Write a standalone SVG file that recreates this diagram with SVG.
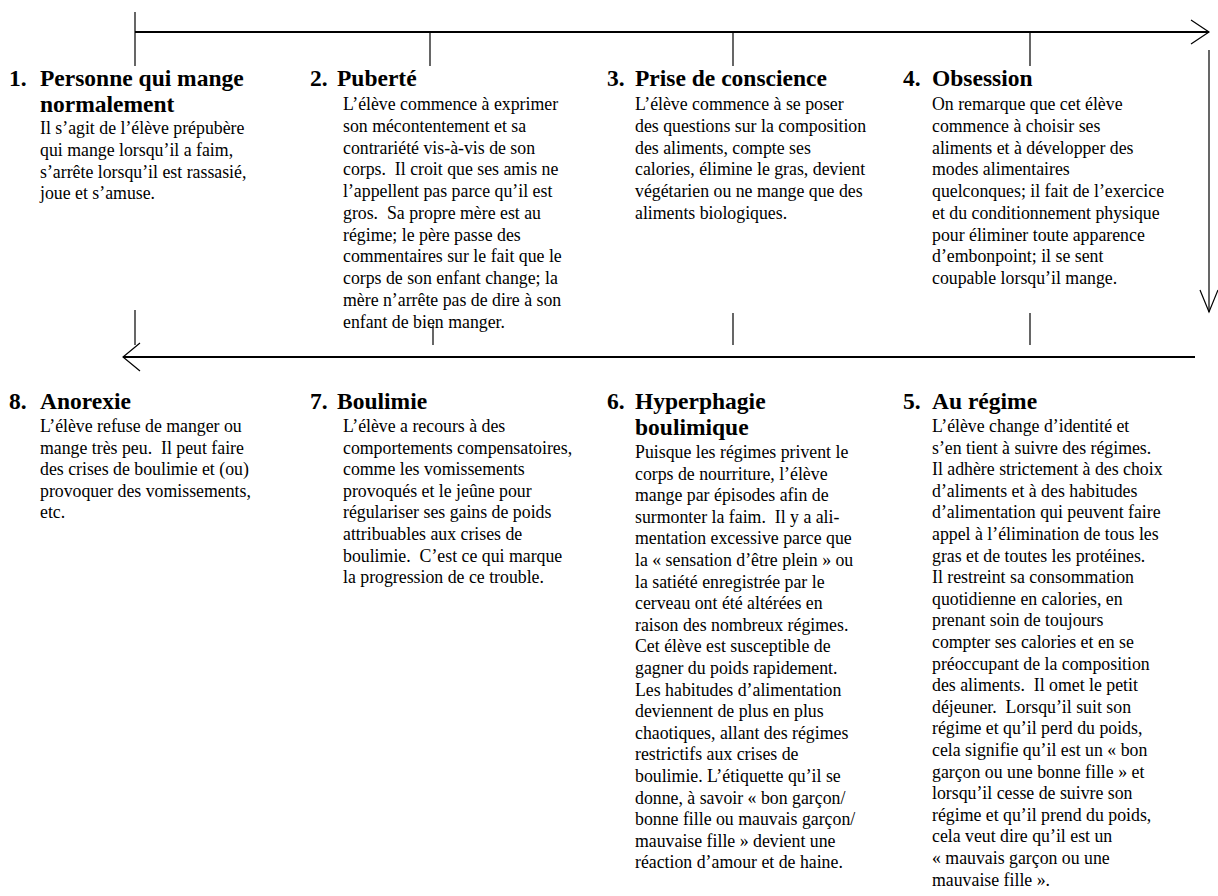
<svg xmlns="http://www.w3.org/2000/svg" width="1218" height="896" viewBox="0 0 1218 896">
<style>
.t{font-family:"Liberation Serif","Times New Roman",serif;font-weight:bold;font-size:23.5px;fill:#000}
.b{font-family:"Liberation Serif","Times New Roman",serif;font-size:17.8px;fill:#000}
.ln{stroke:#000;stroke-width:1.2;fill:none}
.main{stroke:#000;stroke-width:2;fill:none}
</style>
<rect width="1218" height="896" fill="#fff"/>
<g id="connectors">
<line class="main" x1="135" y1="32" x2="1209" y2="32"/>
<polyline class="ln" points="1191,20 1209,32 1191,44"/>
<line class="ln" x1="135" y1="12" x2="135" y2="66"/>
<line class="ln" x1="430" y1="32" x2="430" y2="66"/>
<line class="ln" x1="733" y1="32" x2="733" y2="66"/>
<line class="ln" x1="1030" y1="32" x2="1030" y2="66"/>
<line class="ln" x1="1209" y1="50" x2="1209" y2="312"/>
<polyline class="ln" points="1200,290 1209,312 1218,290"/>
<line class="main" x1="123" y1="357" x2="1195" y2="357"/>
<polyline class="ln" points="140,343 123,357 140,371"/>
<line class="ln" x1="135" y1="310" x2="135" y2="345"/>
<line class="ln" x1="433" y1="325" x2="433" y2="345"/>
<line class="ln" x1="733" y1="313" x2="733" y2="345"/>
<line class="ln" x1="1030" y1="313" x2="1030" y2="345"/>
</g>
<g id="n1">
<text class="t" x="9" y="86">1.</text>
<text class="t" x="40" y="86">Personne qui mange</text>
<text class="t" x="40" y="112">normalement</text>
<text class="b"><tspan x="40" y="134">Il s’agit de l’élève prépubère</tspan><tspan x="40" dy="21.75">qui mange lorsqu’il a faim,</tspan><tspan x="40" dy="21.75">s’arrête lorsqu’il est rassasié,</tspan><tspan x="40" dy="21.75">joue et s’amuse.</tspan></text>
</g>
<g id="n2">
<text class="t" x="310" y="86">2.</text>
<text class="t" x="337" y="86">Puberté</text>
<text class="b"><tspan x="343" y="110">L’élève commence à exprimer</tspan><tspan x="343" dy="21.75">son mécontentement et sa</tspan><tspan x="343" dy="21.75">contrariété vis-à-vis de son</tspan><tspan x="343" dy="21.75">corps. &#160;Il croit que ses amis ne</tspan><tspan x="343" dy="21.75">l’appellent pas parce qu’il est</tspan><tspan x="343" dy="21.75">gros. &#160;Sa propre mère est au</tspan><tspan x="343" dy="21.75">régime; le père passe des</tspan><tspan x="343" dy="21.75">commentaires sur le fait que le</tspan><tspan x="343" dy="21.75">corps de son enfant change; la</tspan><tspan x="343" dy="21.75">mère n’arrête pas de dire à son</tspan><tspan x="343" dy="21.75">enfant de bien manger.</tspan></text>
</g>
<g id="n3">
<text class="t" x="607" y="86">3.</text>
<text class="t" x="635" y="86">Prise de conscience</text>
<text class="b"><tspan x="635" y="110">L’élève commence à se poser</tspan><tspan x="635" dy="21.75">des questions sur la composition</tspan><tspan x="635" dy="21.75">des aliments, compte ses</tspan><tspan x="635" dy="21.75">calories, élimine le gras, devient</tspan><tspan x="635" dy="21.75">végétarien ou ne mange que des</tspan><tspan x="635" dy="21.75">aliments biologiques.</tspan></text>
</g>
<g id="n4">
<text class="t" x="903" y="86">4.</text>
<text class="t" x="932" y="86">Obsession</text>
<text class="b"><tspan x="932" y="110">On remarque que cet élève</tspan><tspan x="932" dy="21.75">commence à choisir ses</tspan><tspan x="932" dy="21.75">aliments et à développer des</tspan><tspan x="932" dy="21.75">modes alimentaires</tspan><tspan x="932" dy="21.75">quelconques; il fait de l’exercice</tspan><tspan x="932" dy="21.75">et du conditionnement physique</tspan><tspan x="932" dy="21.75">pour éliminer toute apparence</tspan><tspan x="932" dy="21.75">d’embonpoint; il se sent</tspan><tspan x="932" dy="21.75">coupable lorsqu’il mange.</tspan></text>
</g>
<g id="n8">
<text class="t" x="9" y="409">8.</text>
<text class="t" x="40" y="409">Anorexie</text>
<text class="b"><tspan x="40" y="432">L’élève refuse de manger ou</tspan><tspan x="40" dy="21.6">mange très peu. &#160;Il peut faire</tspan><tspan x="40" dy="21.6">des crises de boulimie et (ou)</tspan><tspan x="40" dy="21.6">provoquer des vomissements,</tspan><tspan x="40" dy="21.6">etc.</tspan></text>
</g>
<g id="n7">
<text class="t" x="310" y="409">7.</text>
<text class="t" x="337" y="409">Boulimie</text>
<text class="b"><tspan x="343" y="432">L’élève a recours à des</tspan><tspan x="343" dy="21.6">comportements compensatoires,</tspan><tspan x="343" dy="21.6">comme les vomissements</tspan><tspan x="343" dy="21.6">provoqués et le jeûne pour</tspan><tspan x="343" dy="21.6">régulariser ses gains de poids</tspan><tspan x="343" dy="21.6">attribuables aux crises de</tspan><tspan x="343" dy="21.6">boulimie. &#160;C’est ce qui marque</tspan><tspan x="343" dy="21.6">la progression de ce trouble.</tspan></text>
</g>
<g id="n6">
<text class="t" x="607" y="409">6.</text>
<text class="t" x="635" y="409">Hyperphagie</text>
<text class="t" x="635" y="435">boulimique</text>
<text class="b"><tspan x="635" y="458">Puisque les régimes privent le</tspan><tspan x="635" dy="21.6">corps de nourriture, l’élève</tspan><tspan x="635" dy="21.6">mange par épisodes afin de</tspan><tspan x="635" dy="21.6">surmonter la faim. &#160;Il y a ali-</tspan><tspan x="635" dy="21.6">mentation excessive parce que</tspan><tspan x="635" dy="21.6">la « sensation d’être plein » ou</tspan><tspan x="635" dy="21.6">la satiété enregistrée par le</tspan><tspan x="635" dy="21.6">cerveau ont été altérées en</tspan><tspan x="635" dy="21.6">raison des nombreux régimes.</tspan><tspan x="635" dy="21.6">Cet élève est susceptible de</tspan><tspan x="635" dy="21.6">gagner du poids rapidement.</tspan><tspan x="635" dy="21.6">Les habitudes d’alimentation</tspan><tspan x="635" dy="21.6">deviennent de plus en plus</tspan><tspan x="635" dy="21.6">chaotiques, allant des régimes</tspan><tspan x="635" dy="21.6">restrictifs aux crises de</tspan><tspan x="635" dy="21.6">boulimie. L’étiquette qu’il se</tspan><tspan x="635" dy="21.6">donne, à savoir « bon garçon/</tspan><tspan x="635" dy="21.6">bonne fille ou mauvais garçon/</tspan><tspan x="635" dy="21.6">mauvaise fille » devient une</tspan><tspan x="635" dy="21.6">réaction d’amour et de haine.</tspan></text>
</g>
<g id="n5">
<text class="t" x="903" y="409">5.</text>
<text class="t" x="932" y="409">Au régime</text>
<text class="b"><tspan x="932" y="432">L’élève change d’identité et</tspan><tspan x="932" dy="21.6">s’en tient à suivre des régimes.</tspan><tspan x="932" dy="21.6">Il adhère strictement à des choix</tspan><tspan x="932" dy="21.6">d’aliments et à des habitudes</tspan><tspan x="932" dy="21.6">d’alimentation qui peuvent faire</tspan><tspan x="932" dy="21.6">appel à l’élimination de tous les</tspan><tspan x="932" dy="21.6">gras et de toutes les protéines.</tspan><tspan x="932" dy="21.6">Il restreint sa consommation</tspan><tspan x="932" dy="21.6">quotidienne en calories, en</tspan><tspan x="932" dy="21.6">prenant soin de toujours</tspan><tspan x="932" dy="21.6">compter ses calories et en se</tspan><tspan x="932" dy="21.6">préoccupant de la composition</tspan><tspan x="932" dy="21.6">des aliments. &#160;Il omet le petit</tspan><tspan x="932" dy="21.6">déjeuner. &#160;Lorsqu’il suit son</tspan><tspan x="932" dy="21.6">régime et qu’il perd du poids,</tspan><tspan x="932" dy="21.6">cela signifie qu’il est un « bon</tspan><tspan x="932" dy="21.6">garçon ou une bonne fille » et</tspan><tspan x="932" dy="21.6">lorsqu’il cesse de suivre son</tspan><tspan x="932" dy="21.6">régime et qu’il prend du poids,</tspan><tspan x="932" dy="21.6">cela veut dire qu’il est un</tspan><tspan x="932" dy="21.6">« mauvais garçon ou une</tspan><tspan x="932" dy="21.6">mauvaise fille ».</tspan></text>
</g>
</svg>
